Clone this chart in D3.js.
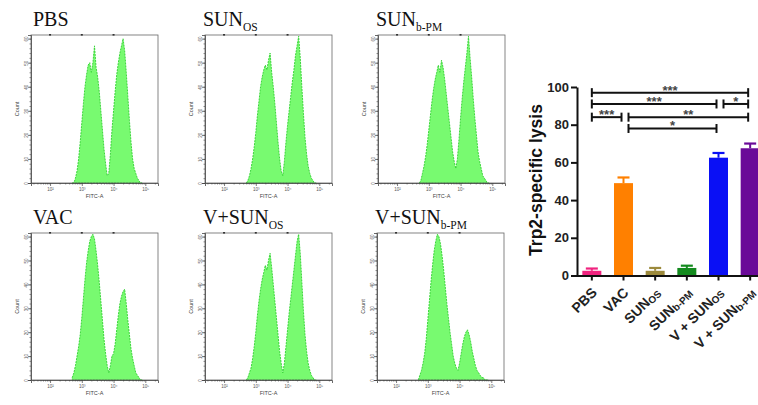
<!DOCTYPE html>
<html>
<head>
<meta charset="utf-8">
<script src="https://cdn.jsdelivr.net/npm/d3@7"></script>
<style>
  body { margin: 0; background: #fff; }
  svg { display: block; }
</style>
</head>
<body>
<svg id="fig" width="758" height="405"></svg>
<script>
// histogram bins (log10 of FITC-A) and counts per group
const binLog = [2.70, 2.75, 2.80, 2.85, 2.90, 2.95, 3.00, 3.05, 3.10, 3.15, 3.20, 3.25, 3.30, 3.35, 3.40,
                3.45, 3.50, 3.55, 3.60, 3.65, 3.70, 3.75, 3.80, 3.85, 3.90, 3.95, 4.00, 4.05, 4.10, 4.15,
                4.20, 4.25, 4.30, 4.35, 4.40, 4.45, 4.50, 4.55, 4.60, 4.65, 4.70, 4.75, 4.80, 4.85, 4.90];

const pbsCounts    = [0, 0, 2, 5, 10, 17, 25, 33, 40, 45, 49, 50, 46, 50, 57, 48, 44, 38, 30, 22, 14, 8, 3, 4, 12,
                      22, 30, 38, 45, 50, 54, 57, 60, 55, 46, 36, 26, 17, 10, 6, 4, 2, 1, 0, 0];
const sunOsCounts  = [0, 1, 3, 6, 10, 15, 21, 28, 34, 40, 44, 47, 49, 47, 51, 54, 46, 40, 33, 25, 17, 10, 5, 3, 9,
                      17, 24, 30, 36, 42, 47, 53, 57, 61, 52, 40, 29, 19, 12, 7, 4, 2, 1, 0, 0];
const sunPmCounts  = [0, 1, 4, 7, 11, 16, 22, 28, 34, 39, 43, 46, 49, 46, 51, 48, 43, 37, 31, 25, 19, 13, 9, 6, 10,
                      18, 27, 35, 42, 48, 54, 61, 52, 44, 35, 27, 20, 13, 9, 6, 3, 2, 1, 0, 0];
const vacCounts    = [1, 3, 6, 10, 14, 19, 26, 34, 42, 49, 54, 58, 60, 61, 59, 54, 48, 41, 33, 25, 17, 11, 6, 3, 6,
                      10, 11, 15, 21, 27, 32, 35, 37, 38, 32, 25, 19, 13, 9, 6, 3, 2, 1, 0, 0];
const vSunOsCounts = [0, 1, 3, 5, 9, 14, 20, 27, 33, 38, 42, 45, 48, 46, 50, 53, 47, 40, 33, 26, 19, 12, 7, 3, 7,
                      14, 21, 28, 34, 40, 46, 52, 58, 61, 53, 41, 29, 19, 12, 7, 4, 2, 1, 0, 0];
const vSunPmCounts = [0, 2, 4, 7, 11, 17, 25, 33, 41, 48, 54, 58, 61, 60, 57, 52, 46, 39, 32, 26, 20, 15, 10, 7, 5,
                      4, 7, 11, 15, 18, 20, 21, 19, 16, 12, 9, 6, 4, 3, 2, 1, 1, 0, 0, 0];

const panelTitles = ["PBS", "SUN", "SUN", "VAC", "V+SUN", "V+SUN"];
const panelSubs   = ["", "OS", "b-PM", "", "OS", "b-PM"];
const panelCounts = [pbsCounts, sunOsCounts, sunPmCounts, vacCounts, vSunOsCounts, vSunPmCounts];
const countTicks  = [0, 10, 20, 30, 40, 50, 60];
const fitcDecades = [2, 3, 4, 5];

// lysis bar chart
const groupNames = ["PBS", "VAC", "SUN", "SUN", "V + SUN", "V + SUN"];
const groupSubs  = ["", "", "OS", "b-PM", "OS", "b-PM"];
const lysisMean  = [2.5, 49, 2.5, 4, 62.5, 67.5];
const lysisErr   = [1.2, 3, 1.5, 1.2, 2.5, 2.5];
const groupColors = ["#f0237f", "#ff8000", "#9c8a3c", "#138a1e", "#0a10f5", "#6a0a98"];
const lysisTicks = [0, 20, 40, 60, 80, 100];

const sigFrom   = [0, 0, 4, 0, 1, 1];
const sigTo     = [5, 4, 5, 1, 5, 4];
const sigLevel  = [97, 91, 91, 84, 84, 78];
const sigLabels = ["***", "***", "*", "***", "**", "*"];

const svg = d3.select("#fig");
svg.append("rect").attr("width", 758).attr("height", 405).attr("fill", "#fff");

// ---- flow cytometry panels ----
const boxes = [
  { x: 31,  y: 35,  w: 127, h: 148 },
  { x: 205, y: 35,  w: 127, h: 148 },
  { x: 378, y: 35,  w: 127, h: 148 },
  { x: 31,  y: 233, w: 127, h: 147 },
  { x: 205, y: 233, w: 127, h: 147 },
  { x: 377, y: 233, w: 127, h: 147 }
];

const supers = { 2: "\u00b2", 3: "\u00b3", 4: "\u2074", 5: "\u2075" };

boxes.forEach((b, i) => {
  const g = svg.append("g");
  const x = d3.scaleLog().domain([Math.pow(10, 1.4), Math.pow(10, 5.4)]).range([b.x, b.x + b.w]);
  const y = d3.scaleLinear().domain([0, 61.5]).range([b.y + b.h, b.y]);

  const pts = binLog.map((v, k) => [v, panelCounts[i][k]]);
  const area = d3.area()
      .x(d => x(Math.pow(10, d[0])))
      .y0(y(0))
      .y1(d => y(d[1]));

  g.append("path")
      .datum(pts)
      .attr("fill", "#78fa70")
      .attr("stroke", "#2fd02f")
      .attr("stroke-width", 0.9)
      .attr("stroke-dasharray", "2,1")
      .attr("d", area);

  // frame
  g.append("rect")
      .attr("x", b.x).attr("y", b.y)
      .attr("width", b.w).attr("height", b.h)
      .attr("fill", "none")
      .attr("stroke", "#666")
      .attr("stroke-width", 0.8);

  // left axis, major + minor
  const yMinor = d3.range(0, 62, 2);
  g.append("g")
      .attr("transform", `translate(${b.x},0)`)
      .call(d3.axisLeft(y).tickValues(yMinor).tickSize(1.5).tickFormat(""))
      .call(a => a.select(".domain").remove())
      .call(a => a.selectAll("line").attr("stroke", "#444").attr("stroke-width", 0.6));
  g.append("g")
      .attr("transform", `translate(${b.x},0)`)
      .call(d3.axisLeft(y).tickValues(countTicks).tickSize(3).tickPadding(1.5))
      .call(a => a.select(".domain").attr("stroke", "#444").attr("stroke-width", 0.8))
      .call(a => a.selectAll("line").attr("stroke", "#444").attr("stroke-width", 0.7))
      .call(a => a.selectAll("text")
          .attr("font-size", 4.5).attr("font-family", "Liberation Sans, Arial")
          .attr("fill", "#555")
          .attr("transform", "rotate(-90,-4.5,0)")
          .attr("text-anchor", "middle").attr("dy", "0.32em").attr("x", -4.5));

  // bottom axis, log minor ticks
  const xMinor = [];
  [1, 2, 3, 4, 5].forEach(n => { for (let m = 2; m <= 9; m++) xMinor.push(m * Math.pow(10, n)); });
  const dom = x.domain();
  g.append("g")
      .attr("transform", `translate(0,${b.y + b.h})`)
      .call(d3.axisBottom(x).tickValues(xMinor.filter(v => v > dom[0] && v < dom[1])).tickSize(1.5).tickFormat(""))
      .call(a => a.select(".domain").remove())
      .call(a => a.selectAll("line").attr("stroke", "#444").attr("stroke-width", 0.6));
  g.append("g")
      .attr("transform", `translate(0,${b.y + b.h})`)
      .call(d3.axisBottom(x).tickValues(fitcDecades.map(d => Math.pow(10, d)))
          .tickSize(3).tickPadding(1.5)
          .tickFormat(v => "10" + supers[Math.round(Math.log10(v))]))
      .call(a => a.select(".domain").attr("stroke", "#444").attr("stroke-width", 0.8))
      .call(a => a.selectAll("line").attr("stroke", "#444").attr("stroke-width", 0.7))
      .call(a => a.selectAll("text").attr("font-size", 4.5)
          .attr("font-family", "Liberation Sans, Arial").attr("fill", "#555"));

  // small marks on top edge
  g.selectAll(".topmark")
    .data(fitcDecades.slice(0, 3))
    .join("rect")
      .attr("x", d => x(Math.pow(10, d)) - 1)
      .attr("y", b.y - 1)
      .attr("width", 2).attr("height", 1.6)
      .attr("fill", "#333");

  g.append("text")
      .attr("transform", `translate(${b.x - 12},${b.y + b.h / 2}) rotate(-90)`)
      .attr("text-anchor", "middle")
      .attr("font-family", "Liberation Sans, Arial")
      .attr("font-size", 5.5)
      .attr("fill", "#444")
      .text("Count");

  g.append("text")
      .attr("x", b.x + b.w / 2).attr("y", b.y + b.h + 15)
      .attr("text-anchor", "middle")
      .attr("font-family", "Liberation Sans, Arial")
      .attr("font-size", 5.5)
      .attr("fill", "#444")
      .text("FITC-A");

  const t = g.append("text")
      .attr("x", b.x + (i % 3 === 0 ? 2 : -2))
      .attr("y", b.y - 9)
      .attr("font-family", "Liberation Serif, Times New Roman, serif")
      .attr("font-size", 20)
      .attr("fill", "#111");
  t.append("tspan").text(panelTitles[i]);
  if (panelSubs[i]) {
    t.append("tspan").attr("font-size", 11.5).attr("dy", 5).text(panelSubs[i]);
  }
});

// ---- Trp2-specific lysis bar chart ----
const keys = groupNames.map((n, i) => n + groupSubs[i]);
const bx = d3.scaleBand().domain(keys).range([576, 766]).paddingInner(0.4).paddingOuter(0.2);
const by = d3.scaleLinear().domain([0, 100]).range([275.5, 87]);
const chart = svg.append("g");

chart.selectAll(".bar")
  .data(keys)
  .join("rect")
    .attr("x", d => bx(d))
    .attr("y", (d, i) => by(lysisMean[i]))
    .attr("width", bx.bandwidth())
    .attr("height", (d, i) => by(0) - by(lysisMean[i]))
    .attr("fill", (d, i) => groupColors[i]);

const capW = 12;
keys.forEach((k, i) => {
  const cx = bx(k) + bx.bandwidth() / 2;
  chart.append("line")
      .attr("x1", cx).attr("x2", cx)
      .attr("y1", by(lysisMean[i])).attr("y2", by(lysisMean[i] + lysisErr[i]))
      .attr("stroke", groupColors[i]).attr("stroke-width", 2);
  chart.append("line")
      .attr("x1", cx - capW / 2).attr("x2", cx + capW / 2)
      .attr("y1", by(lysisMean[i] + lysisErr[i])).attr("y2", by(lysisMean[i] + lysisErr[i]))
      .attr("stroke", groupColors[i]).attr("stroke-width", 2.2);
});

chart.append("g")
    .attr("transform", "translate(577,0)")
    .call(d3.axisLeft(by).tickValues(lysisTicks).tickSize(6).tickSizeOuter(0).tickPadding(2))
    .call(a => a.select(".domain").attr("stroke", "#111").attr("stroke-width", 2))
    .call(a => a.selectAll("line").attr("stroke", "#111").attr("stroke-width", 2))
    .call(a => a.selectAll("text")
        .attr("font-family", "Liberation Sans, Arial").attr("font-weight", "bold")
        .attr("font-size", 13).attr("fill", "#222"));

chart.append("g")
    .attr("transform", `translate(0,${by(0)})`)
    .call(d3.axisBottom(bx).tickSize(5).tickSizeOuter(0).tickFormat(""))
    .call(a => a.select(".domain").attr("stroke", "#111").attr("stroke-width", 2))
    .call(a => a.selectAll("line").attr("stroke", "#111").attr("stroke-width", 2));

keys.forEach((k, i) => {
  const cx = bx(k) + bx.bandwidth() / 2;
  const t = chart.append("text")
      .attr("transform", `translate(${cx + 6},${by(0) + 18}) rotate(-45)`)
      .attr("text-anchor", "end")
      .attr("font-family", "Liberation Sans, Arial")
      .attr("font-weight", "bold")
      .attr("font-size", 14)
      .attr("fill", "#222");
  t.append("tspan").text(groupNames[i]);
  if (groupSubs[i]) t.append("tspan").attr("font-size", 10).attr("dy", 1.5).text(groupSubs[i]);
});

chart.append("text")
    .attr("transform", "translate(542,180) rotate(-90)")
    .attr("text-anchor", "middle")
    .attr("font-family", "Liberation Sans, Arial")
    .attr("font-weight", "bold")
    .attr("font-size", 17.5)
    .attr("fill", "#111")
    .text("Trp2-specific lysis");

// significance brackets
sigLabels.forEach((lab, i) => {
  const a = sigFrom[i], b = sigTo[i];
  const x1 = bx(keys[a]) + bx.bandwidth() / 2 + (a === 0 ? 0 : 5);
  const x2 = bx(keys[b]) + bx.bandwidth() / 2 - 2;
  const yy = by(sigLevel[i]);
  const br = chart.append("g").attr("stroke", "#111").attr("stroke-width", 2);
  br.append("line").attr("x1", x1).attr("x2", x2).attr("y1", yy).attr("y2", yy);
  br.append("line").attr("x1", x1).attr("x2", x1).attr("y1", yy - 4.5).attr("y2", yy + 4.5);
  br.append("line").attr("x1", x2).attr("x2", x2).attr("y1", yy - 4.5).attr("y2", yy + 4.5);
  chart.append("text")
      .attr("x", (x1 + x2) / 2).attr("y", yy + 2)
      .attr("text-anchor", "middle")
      .attr("font-family", "Liberation Sans, Arial")
      .attr("font-weight", "bold")
      .attr("font-size", 13)
      .attr("fill", "#444")
      .text(lab);
});
</script>
</body>
</html>
